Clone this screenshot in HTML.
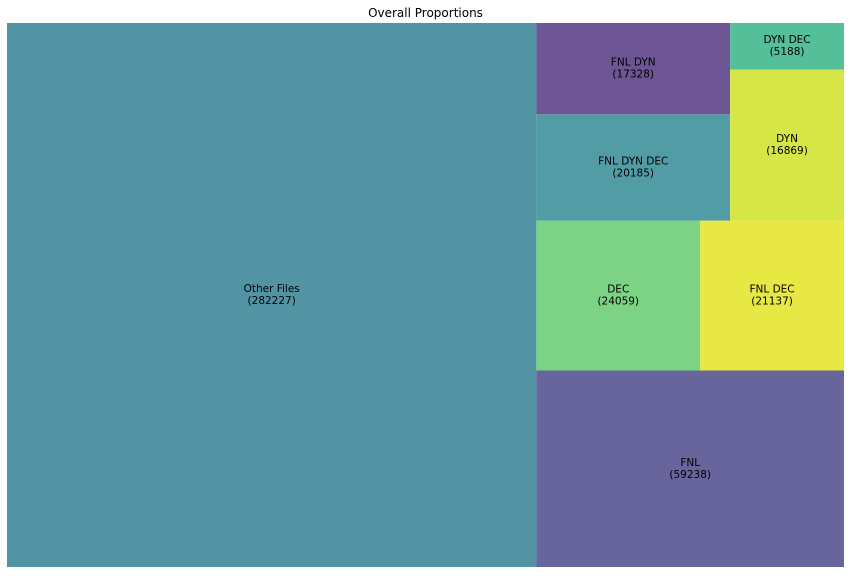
<!DOCTYPE html>
<html><head><meta charset="utf-8">
<style>
body{margin:0;background:#fff;width:851px;height:574px;overflow:hidden;font-family:"DejaVu Sans","Liberation Sans",sans-serif;}
svg text{font-family:"DejaVu Sans","Liberation Sans",sans-serif;}
</style></head>
<body>
<svg id="chart" width="851" height="574" xmlns="http://www.w3.org/2000/svg">
<text x="425.5" y="17" text-anchor="middle" font-size="12" fill="#000">Overall Proportions</text>
<g id="tiles"></g>
</svg>
<script>
const labels = ["Other Files","FNL","DEC","FNL DEC","FNL DYN DEC","FNL DYN","DYN","DYN DEC"];
const values = [282227,59238,24059,21137,20185,17328,16869,5188];
const colors = ["#5294a3","#67659c","#7dd385","#e8e845","#529ca5","#6e5594","#d7e647","#55bf9a"];

const PX=7, PY=23, PW=837, PH=544;
function layoutRow(s,x,y,dx,dy){const c=s.reduce((a,b)=>a+b,0);const h=c/dx;let r=[],cx=x;for(const v of s){r.push({x:cx,y:y,dx:v/h,dy:h});cx+=v/h;}return r;}
function layoutCol(s,x,y,dx,dy){const c=s.reduce((a,b)=>a+b,0);const w=c/dy;let r=[],cy=y;for(const v of s){r.push({x:x,y:cy,dx:w,dy:v/w});cy+=v/w;}return r;}
function layout(s,x,y,dx,dy){return dx>=dy?layoutCol(s,x,y,dx,dy):layoutRow(s,x,y,dx,dy);}
function leftover(s,x,y,dx,dy){const c=s.reduce((a,b)=>a+b,0);if(dx>=dy){const w=c/dy;return [x+w,y,dx-w,dy];}const h=c/dx;return [x,y+h,dx,dy-h];}
function worst(s,x,y,dx,dy){return Math.max(...layout(s,x,y,dx,dy).map(r=>Math.max(r.dx/r.dy,r.dy/r.dx)));}
function squarify(s,x,y,dx,dy){
  if(s.length===0)return [];
  if(s.length===1)return layout(s,x,y,dx,dy);
  let i=1;
  while(i<s.length && worst(s.slice(0,i),x,y,dx,dy)>=worst(s.slice(0,i+1),x,y,dx,dy))i++;
  const cur=s.slice(0,i),rem=s.slice(i);
  const [lx,ly,ldx,ldy]=leftover(cur,x,y,dx,dy);
  return layout(cur,x,y,dx,dy).concat(squarify(rem,lx,ly,ldx,ldy));
}
const total=values.reduce((a,b)=>a+b,0);
const norm=values.map(v=>v*10000/total);
const rects=squarify(norm,0,0,100,100);
const g=document.getElementById('tiles');
const NS="http://www.w3.org/2000/svg";
rects.forEach((r,i)=>{
  const x=PX+r.x/100*PW, w=r.dx/100*PW;
  const h=r.dy/100*PH, y=PY+PH-(r.y/100*PH)-h;
  const rect=document.createElementNS(NS,'rect');
  
  
  rect.setAttribute('x',x);rect.setAttribute('y',y);
  rect.setAttribute('width',w);rect.setAttribute('height',h);
  rect.setAttribute('fill',colors[i]);
  g.appendChild(rect);
  const t=document.createElementNS(NS,'text');
  
  
  t.setAttribute('x',x+w/2);t.setAttribute('y',y+h/2-3);
  t.setAttribute('text-anchor','middle');t.setAttribute('font-size','10.5');t.setAttribute('fill','#000');
  const a=document.createElementNS(NS,'tspan');a.setAttribute('x',x+w/2);a.textContent=labels[i];
  const b=document.createElementNS(NS,'tspan');b.setAttribute('x',x+w/2);b.setAttribute('dy','12');b.textContent='('+values[i]+')';
  t.appendChild(a);t.appendChild(b);g.appendChild(t);
});
</script>
</body></html>
